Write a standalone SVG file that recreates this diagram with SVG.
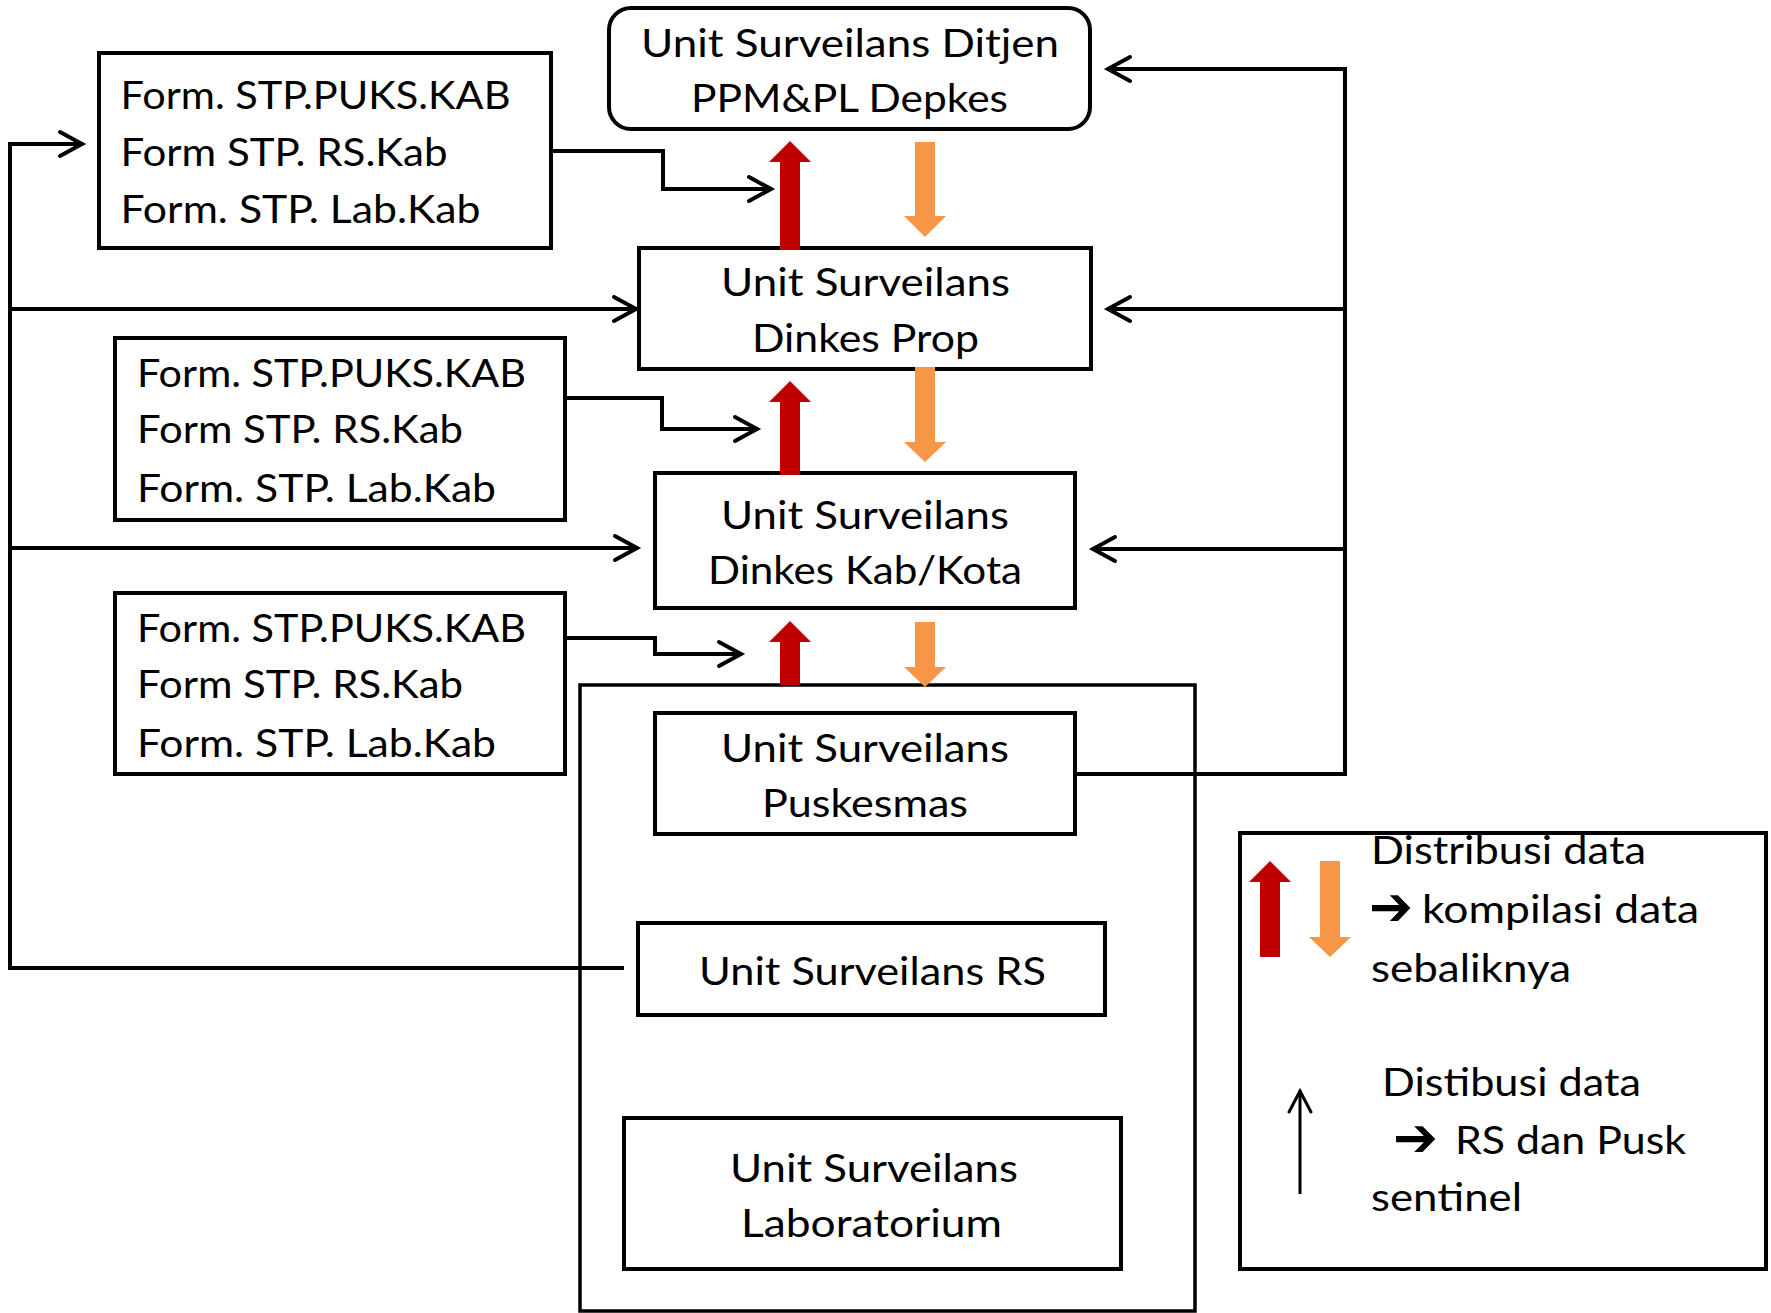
<svg xmlns="http://www.w3.org/2000/svg" width="1771" height="1313" viewBox="0 0 1771 1313">
<style>
.box{fill:#fff;stroke:#000;stroke-width:4}
.t{font-family:Lato,"Open Sans",sans-serif;font-size:39px;fill:#000}
.ar{font-family:"DejaVu Sans",sans-serif;font-size:54px;font-weight:bold;fill:#000}
.c{fill:none;stroke:#000;stroke-width:4;marker-end:url(#open)}
.red{fill:#C00000}
.org{fill:#F79646}
</style>
<defs>
<marker id="open" markerUnits="userSpaceOnUse" markerWidth="40" markerHeight="40" viewBox="-30 -20 40 40" refX="0" refY="0" orient="auto" overflow="visible">
<path d="M-23,-12 L-1,0 L-23,12" fill="none" stroke="#000" stroke-width="4" stroke-linecap="round"/>
</marker>
<marker id="thin" markerUnits="userSpaceOnUse" markerWidth="40" markerHeight="40" viewBox="-30 -20 40 40" refX="0" refY="0" orient="auto" overflow="visible">
<path d="M-22,-11 L-1,0 L-22,11" fill="none" stroke="#000" stroke-width="3" stroke-linecap="round"/>
</marker>
</defs>
<rect width="1771" height="1313" fill="#fff"/>

<g id="outer-group">
<rect x="580" y="685" width="615" height="626" fill="none" stroke="#000" stroke-width="3.5"/>
</g>

<g id="connectors">
<path class="c" d="M624,968 H10 V144 H83"/>
<path class="c" d="M10,309 H637"/>
<path class="c" d="M10,548 H638"/>
<path class="c" d="M1075,774 H1345 V69 H1107"/>
<path class="c" d="M1345,309 H1107"/>
<path class="c" d="M1345,549 H1092"/>
<path class="c" d="M551,151 H663 V189 H772"/>
<path class="c" d="M565,398 H662 V429 H758"/>
<path class="c" d="M565,638 H655 V654 H742"/>
</g>

<g id="form1">
<rect class="box" x="99" y="53" width="452" height="195"/>
<text class="t" x="120.5" y="109" textLength="390" lengthAdjust="spacingAndGlyphs">Form. STP.PUKS.KAB</text>
<text class="t" x="120.5" y="166" textLength="327" lengthAdjust="spacingAndGlyphs">Form STP. RS.Kab</text>
<text class="t" x="120.5" y="223" textLength="360" lengthAdjust="spacingAndGlyphs">Form. STP. Lab.Kab</text>
</g>
<g id="form2">
<rect class="box" x="115" y="338" width="450" height="182"/>
<text class="t" x="137" y="387" textLength="389" lengthAdjust="spacingAndGlyphs">Form. STP.PUKS.KAB</text>
<text class="t" x="137" y="443" textLength="326" lengthAdjust="spacingAndGlyphs">Form STP. RS.Kab</text>
<text class="t" x="137" y="502" textLength="359" lengthAdjust="spacingAndGlyphs">Form. STP. Lab.Kab</text>
</g>
<g id="form3">
<rect class="box" x="115" y="593" width="450" height="181"/>
<text class="t" x="137" y="642" textLength="389" lengthAdjust="spacingAndGlyphs">Form. STP.PUKS.KAB</text>
<text class="t" x="137" y="698" textLength="326" lengthAdjust="spacingAndGlyphs">Form STP. RS.Kab</text>
<text class="t" x="137" y="757" textLength="359" lengthAdjust="spacingAndGlyphs">Form. STP. Lab.Kab</text>
</g>

<g id="ditjen">
<rect class="box" x="609" y="8" width="481" height="121" rx="22"/>
<text class="t" x="641" y="57" textLength="418" lengthAdjust="spacingAndGlyphs">Unit Surveilans Ditjen</text>
<text class="t" x="691" y="112" textLength="317" lengthAdjust="spacingAndGlyphs">PPM&amp;PL Depkes</text>
</g>
<g id="prop">
<rect class="box" x="639" y="248" width="452" height="121"/>
<text class="t" x="721" y="296" textLength="289" lengthAdjust="spacingAndGlyphs">Unit Surveilans</text>
<text class="t" x="752" y="352" textLength="227" lengthAdjust="spacingAndGlyphs">Dinkes Prop</text>
</g>
<g id="kab">
<rect class="box" x="655" y="473" width="420" height="135"/>
<text class="t" x="721" y="529" textLength="288" lengthAdjust="spacingAndGlyphs">Unit Surveilans</text>
<text class="t" x="708" y="584" textLength="314" lengthAdjust="spacingAndGlyphs">Dinkes Kab/Kota</text>
</g>
<g id="puskesmas">
<rect class="box" x="655" y="713" width="420" height="121"/>
<text class="t" x="721" y="762" textLength="288" lengthAdjust="spacingAndGlyphs">Unit Surveilans</text>
<text class="t" x="762" y="817" textLength="206" lengthAdjust="spacingAndGlyphs">Puskesmas</text>
</g>
<g id="rs">
<rect class="box" x="638" y="923" width="467" height="92"/>
<text class="t" x="699" y="985" textLength="347" lengthAdjust="spacingAndGlyphs">Unit Surveilans RS</text>
</g>
<g id="lab">
<rect class="box" x="624" y="1118" width="497" height="151"/>
<text class="t" x="730" y="1182" textLength="288" lengthAdjust="spacingAndGlyphs">Unit Surveilans</text>
<text class="t" x="741" y="1237" textLength="261" lengthAdjust="spacingAndGlyphs">Laboratorium</text>
</g>

<g id="flow-arrows">
<path class="red" d="M790,141 L811,162 L800,162 L800,250 L780,250 L780,162 L769,162 Z"/>
<path class="red" d="M790,381 L811,402 L800,402 L800,475 L780,475 L780,402 L769,402 Z"/>
<path class="red" d="M790,621 L811,642 L800,642 L800,685 L780,685 L780,642 L769,642 Z"/>
<path class="org" d="M915,142 L935,142 L935,216 L946,216 L925,237 L904,216 L915,216 Z"/>
<path class="org" d="M915,367 L935,367 L935,442 L946,442 L925,462 L904,442 L915,442 Z"/>
<path class="org" d="M915,622 L935,622 L935,667 L946,667 L925,687 L904,667 L915,667 Z"/>
</g>

<g id="legend">
<rect class="box" x="1240" y="833" width="526" height="436" fill="none"/>
<path class="red" d="M1270,861 L1291,882 L1280,882 L1280,957 L1260,957 L1260,882 L1249,882 Z"/>
<path class="org" d="M1320,861 L1340,861 L1340,937 L1351,937 L1330,957 L1309,937 L1320,937 Z"/>
<text class="t" x="1371" y="864" textLength="275" lengthAdjust="spacingAndGlyphs">Distribusi data</text>
<text class="ar" x="1369" y="925" textLength="44" lengthAdjust="spacingAndGlyphs">➔</text>
<text class="t" x="1422" y="923" textLength="277" lengthAdjust="spacingAndGlyphs">kompilasi data</text>
<text class="t" x="1371" y="982" textLength="200" lengthAdjust="spacingAndGlyphs">sebaliknya</text>
<path d="M1300,1194 V1090" fill="none" stroke="#000" stroke-width="3" marker-end="url(#thin)"/>
<text class="t" x="1382" y="1096" textLength="259" lengthAdjust="spacingAndGlyphs">Distibusi data</text>
<text class="ar" x="1393" y="1156" textLength="45" lengthAdjust="spacingAndGlyphs">➔</text>
<text class="t" x="1455" y="1154" textLength="231" lengthAdjust="spacingAndGlyphs">RS dan Pusk</text>
<text class="t" x="1371" y="1211" textLength="151" lengthAdjust="spacingAndGlyphs">sentinel</text>
</g>
</svg>
